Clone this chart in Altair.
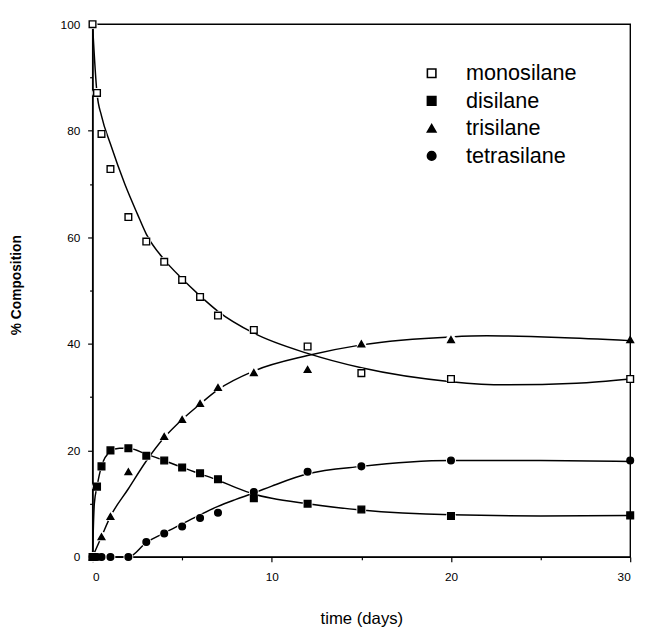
import altair as alt
import pandas as pd

series = ["monosilane", "disilane", "trisilane", "tetrasilane"]

# observed points
t_mono = [0, 0.25, 0.5, 1, 2, 3, 4, 5, 6, 7, 9, 12, 15, 20, 30]
mono_obs = [100, 87.1, 79.4, 72.8, 63.8, 59.2, 55.4, 52.0, 48.8, 45.3, 42.6, 39.5, 34.5, 33.4, 33.4]
t_di = [0, 0.25, 0.5, 1, 2, 3, 4, 5, 6, 7, 9, 12, 15, 20, 30]
di_obs = [0, 13.2, 17.0, 20.0, 20.4, 19.0, 18.1, 16.8, 15.7, 14.6, 11.0, 10.0, 8.9, 7.7, 7.8]
t_tri = [0, 0.5, 1, 2, 4, 5, 6, 7, 9, 12, 15, 20, 30]
tri_obs = [0, 3.8, 7.6, 16.0, 22.6, 25.8, 28.8, 31.8, 34.6, 35.2, 40.0, 40.8, 40.8]
t_tetra = [0, 0.25, 0.5, 1, 2, 3, 4, 5, 6, 7, 9, 12, 15, 20, 30]
tetra_obs = [0, 0, 0, 0, 0, 2.8, 4.4, 5.7, 7.3, 8.3, 12.2, 16.0, 17.0, 18.1, 18.1]

# fitted curves
tc_mono = [0, 0.25, 0.5, 1, 1.8, 2.5, 3, 4, 5, 6, 7, 9, 12, 15, 20, 23, 27, 30]
mono_curve = [100, 87.0, 82.8, 77.5, 70.0, 64.4, 60.6, 55.8, 52.2, 49.0, 46.1, 42.0, 38.2, 35.5, 32.9, 32.3, 32.6, 33.4]
tc_di = [0, 0.1, 0.25, 0.5, 1, 1.5, 2, 3, 4, 5, 6, 7, 8, 9, 10, 12, 15, 20, 25, 30]
di_curve = [0, 10, 13.2, 17.0, 19.8, 20.4, 20.4, 19.3, 18.1, 16.8, 15.6, 14.4, 13.0, 11.8, 11.0, 10.0, 8.8, 7.9, 7.7, 7.8]
tc_tri = [0, 0.5, 1, 2, 3, 4, 5, 6, 7, 9, 12, 15, 20, 22, 26, 30]
tri_curve = [0, 3.8, 7.6, 12.8, 18.0, 22.4, 25.8, 28.7, 31.4, 34.9, 37.8, 39.8, 41.3, 41.5, 41.2, 40.6]
tc_tetra = [0, 2, 3, 4, 5, 6, 7, 8, 9, 10, 12, 15, 20, 25, 30]
tetra_curve = [0, 0, 2.7, 4.5, 6.2, 7.9, 9.5, 10.8, 12.0, 13.3, 15.6, 17.0, 18.1, 18.1, 17.9]

x_ticks = [0, 5, 10, 15, 20, 25, 30]
y_ticks = [0, 10, 20, 30, 40, 50, 60, 70, 80, 90, 100]


def long(name, ts, vs):
    return [{"t": t, "v": v, "series": name} for t, v in zip(ts, vs)]


obs = pd.DataFrame(
    long("monosilane", t_mono, mono_obs)
    + long("disilane", t_di, di_obs)
    + long("trisilane", t_tri, tri_obs)
    + long("tetrasilane", t_tetra, tetra_obs)
)
curves = pd.DataFrame(
    long("monosilane", tc_mono, mono_curve)
    + long("disilane", tc_di, di_curve)
    + long("trisilane", tc_tri, tri_curve)
    + long("tetrasilane", tc_tetra, tetra_curve)
)

FONT = "Liberation Sans"

x_enc = alt.X(
    "t:Q",
    scale=alt.Scale(domain=[0, 30], nice=False, zero=False),
    axis=alt.Axis(
        values=x_ticks,
        labelExpr="datum.value % 10 === 0 ? datum.label : ''",
        tickSize={"condition": {"test": "datum.value % 10 === 0", "value": 5}, "value": 3},
        labelPadding=10,
        title="time (days)",
        titleFontSize=17,
        titleFontWeight="normal",
        titleY=63,
        titleBaseline="middle",
    ),
)
y_enc = alt.Y(
    "v:Q",
    scale=alt.Scale(domain=[0, 100], nice=False),
    axis=alt.Axis(
        values=y_ticks,
        labelExpr="datum.value % 20 === 0 ? datum.label : ''",
        tickSize={"condition": {"test": "datum.value % 20 === 0", "value": 5}, "value": 3},
        labelPadding=8,
        title="% Composition",
        titleFontSize=14,
        titleFontWeight="bold",
        titleX=-77,
        titleY=265,
        titleAngle=270,
        titleAlign="center",
        titleBaseline="middle",
    ),
)

lines = alt.Chart(curves).mark_line(
    color="black", strokeWidth=1.5, interpolate="monotone"
).encode(x=x_enc, y=y_enc, detail="series:N")

halo = alt.Chart(obs).transform_filter("datum.t < 30").mark_point(
    filled=True, color="white", size=100, shape="circle", opacity=1
).encode(x=x_enc, y=y_enc)

leg = alt.Legend(
    title=None,
    orient="none",
    legendX=334,
    legendY=39,
    labelFontSize=22,
    labelFont=FONT,
    labelColor="black",
    symbolSize=75,
    symbolStrokeColor="black",
    symbolStrokeWidth=1.6,
    labelOffset=24,
    rowPadding=6,
    padding=0,
)

points = alt.Chart(obs).mark_point(
    filled=True, opacity=1, size=46, strokeWidth=1.4
).encode(
    x=x_enc,
    y=y_enc,
    shape=alt.Shape(
        "series:N",
        scale=alt.Scale(domain=series, range=["square", "square", "triangle-up", "circle"]),
        legend=leg,
    ),
    fill=alt.Fill(
        "series:N",
        scale=alt.Scale(domain=series, range=["white", "black", "black", "black"]),
        legend=leg,
    ),
    stroke=alt.Stroke(
        "series:N",
        scale=alt.Scale(domain=series, range=["black", "black", "black", "black"]),
        legend=leg,
    ),
)

chart = (
    alt.layer(lines, halo, points)
    .properties(
        width=547,
        height=542,
        padding={"left": 2, "top": 4, "right": 5, "bottom": 5},
        background="white",
    )
    .configure_view(stroke="black", strokeWidth=1.4)
    .configure_axis(
        grid=False,
        domainColor="black",
        domainWidth=1.4,
        tickColor="black",
        tickWidth=1.2,
        labelColor="black",
        labelFont=FONT,
        labelFontSize=12,
        titleFont=FONT,
        titleColor="black",
        zindex=1,
    )
)

chart.save("out.html", embed_options={"renderer": "svg", "actions": False})
